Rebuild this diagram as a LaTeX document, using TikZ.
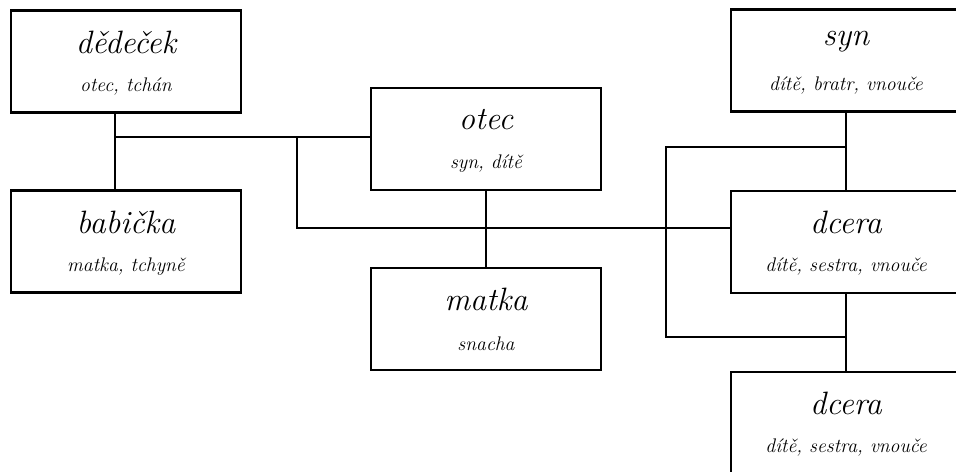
\documentclass[tikz,border=0pt]{standalone}
\usepackage{fontspec}
\usepackage{tikz}
\usetikzlibrary{calc,positioning}
\tikzset{
  person/.style={rectangle,draw=black,line width=1.8pt,minimum width=5.75cm,minimum height=2.55cm,inner sep=0pt},
  head/.style={font=\fontsize{23}{27}\selectfont\itshape,inner sep=0pt},
  role/.style={font=\fontsize{14}{17}\selectfont\itshape,inner sep=0pt},
  rel/.style={line width=1.8pt,black},
}
% box with its name near the top and its roles below
\newcommand{\Person}[4]{%
  \node[person] (#1) at (#2) {};
  \node[head] (#1-h) at ($(#1.north)+(0,33)$) {#3};
  \node[role] (#1-r) at ($(#1.north)+(0,77)$) {#4};
}
\newcommand{\Joints}{%
  \coordinate (gp) at (115,137); \coordinate (fa) at (297,137);
  \coordinate (fb) at (297,228); \coordinate (kt) at (666,147);
  \coordinate (kb) at (666,337);
}

\begin{document}
\begin{tikzpicture}[x=0.025cm,y=-0.025cm]
  \clip (0,0) rectangle (956,472);
  \useasboundingbox (0,0) rectangle (956,472);
  \Joints
  \Person{dedecek}{126,61.5}{dědeček}{otec, tchán}
  \Person{babicka}{126,241.5}{babička}{matka, tchyně}
  \Person{otec}{486,139}{otec}{syn, dítě}
  \Person{matka}{486,319}{matka}{snacha}
  \Person{syn}{846,60.5}{syn}{dítě, bratr, vnouče}
  \Person{dcera}{846,242}{dcera}{dítě, sestra, vnouče}
  \Person{dcerb}{846,423}{dcera}{dítě, sestra, vnouče}
  \draw[rel] (dedecek.south -| gp) -- (babicka.north -| gp);
  \draw[rel] (gp) -- (gp -| otec.west);
  \draw[rel] (fa) -- (fb) -- (fb -| dcera.west);
  \draw[rel] (otec.south) -- (matka.north);
  \draw[rel] (syn.south) -- (dcera.north);
  \draw[rel] (kt -| syn.south) -- (kt) -- (kb) -- (kb -| dcerb.north);
  \draw[rel] (dcera.south) -- (dcerb.north);
\end{tikzpicture}
\end{document}
